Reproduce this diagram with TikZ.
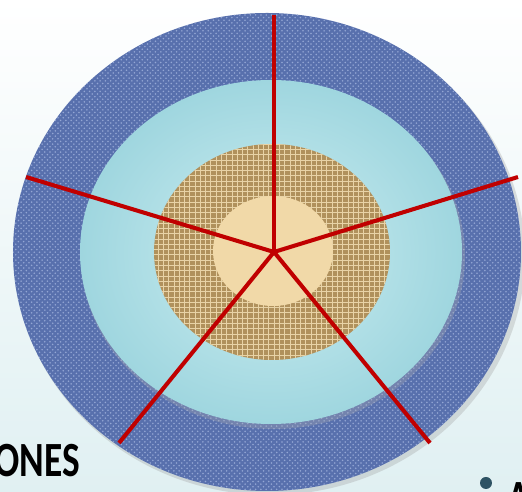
\documentclass[tikz,border=0pt]{standalone}
\usepackage{fontspec}
\setmainfont{Carlito}
\usetikzlibrary{patterns}

\definecolor{denim}{HTML}{5870AD}
\definecolor{denimlight}{HTML}{93A6D4}
\definecolor{water}{HTML}{9FD6DF}
\definecolor{waterlight}{HTML}{CDEEF1}
\definecolor{burlap}{HTML}{B0915C}
\definecolor{burlaplight}{HTML}{E8D3A6}
\definecolor{sand}{HTML}{F1D9A8}
\definecolor{spoke}{HTML}{C00000}
\definecolor{bgbottom}{HTML}{E0F0F2}
\definecolor{bulletcol}{HTML}{2E5364}

\begin{document}
\begin{tikzpicture}[
    x=0.02cm,
    y=-0.02cm,
    spokeline/.style={draw=spoke, line width=2.3pt},
    label/.style={font=\bfseries\fontsize{28}{32}\selectfont, inner sep=0pt},
    dotmark/.style={circle, fill=bulletcol, inner sep=0pt, minimum size=0.24cm}
]
\useasboundingbox (0,0) rectangle (522,492);
\clip (0,0) rectangle (522,492);
\shade[top color=white, bottom color=bgbottom] (0,0) rectangle (522,492);

% outer ring
\fill[black!40, opacity=0.3] (270,256) ellipse [x radius=255, y radius=239];
\fill[denim] (267,252) ellipse [x radius=254, y radius=239];
\fill[pattern=crosshatch dots, pattern color=denimlight] (267,252) ellipse [x radius=254, y radius=239];

% water ring
\fill[black!30, opacity=0.3] (273,256) ellipse [x radius=192, y radius=173];
\shade[inner color=waterlight, outer color=water] (271,252) ellipse [x radius=191, y radius=172];

% burlap ring
\fill[burlap] (272,252) ellipse [x radius=118, y radius=108];
\fill[pattern=grid, pattern color=burlaplight] (272,252) ellipse [x radius=118, y radius=108];

% core
\fill[sand] (273,251) ellipse [x radius=60, y radius=55];

% spokes
\coordinate (hub) at (274,252);
\coordinate (top) at (274,15);
\coordinate (left) at (26,177);
\coordinate (right) at (518,177);
\coordinate (botleft) at (119,443);
\coordinate (botright) at (430,443);
\foreach \p in {top,left,right,botleft,botright}
  \draw[spokeline] (hub) -- (\p);

% cut text
\node[label, anchor=base east] (ones) at (80,477) {\scalebox{0.76}[1]{ONES}};
\node[dotmark] (dot) at (486,483) {};
\node[label, anchor=base west] (atext) at (507,515) {\scalebox{0.76}[1]{A}};
\end{tikzpicture}
\end{document}
